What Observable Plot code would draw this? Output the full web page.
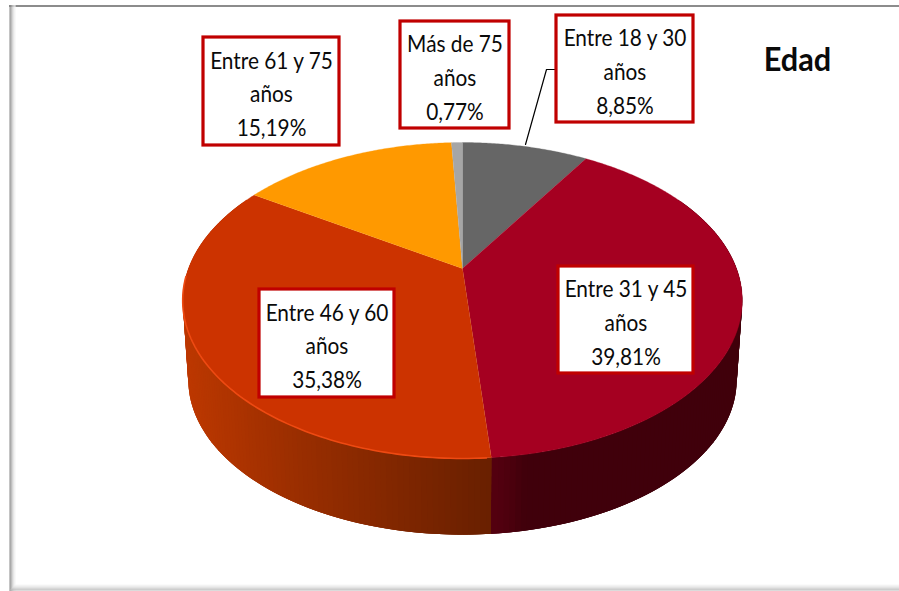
<!DOCTYPE html>
<html lang="es">
<head>
<meta charset="utf-8">
<script src="https://cdn.jsdelivr.net/npm/d3@7"></script>
<script src="https://cdn.jsdelivr.net/npm/@observablehq/plot@0.6"></script>
<style>
html,body{margin:0;padding:0;background:#fff;overflow:hidden}
svg{display:block}
</style>
</head>
<body>
<div id="chart"></div>
<script>
// Data (clockwise from 12 o'clock)
const categories = ["Entre 18 y 30 años","Entre 31 y 45 años","Entre 46 y 60 años","Entre 61 y 75 años","Más de 75 años"];
const values = [8.85,39.81,35.38,15.19,0.77];
const valueLabels = ["8,85%","39,81%","35,38%","15,19%","0,77%"];
const labelLines = [["Entre 18 y 30","años"],["Entre 31 y 45","años"],["Entre 46 y 60","años"],["Entre 61 y 75","años"],["Más de 75","años"]];
const topColors = ["#666666","#a50021","#cc3300","#ff9900","#a6a6a6"];
const title = "Edad";

// Label box placement
const boxX1 = [556,558,259,203,400];
const boxX2 = [693,693,394,339,509];
const boxY1 = [15,266,289,37,21];
const boxY2 = [122,373,397,145,128];
const leaderX = [525,546,555];
const leaderY = [144,69,69];

// Pie perspective
const cx=462, cy=268, A=274, B=151.5, K=0.2025, DEPTH=80, SHRINK=0.98;
function proj(deg, s=1, dy=0){
  const t=deg*Math.PI/180, u=Math.sin(t), v=Math.cos(t), w=1+K*v;
  return {x:cx+s*A*u/w, y:cy+dy-s*B*v/w};
}
const cum=[0]; values.forEach(v=>cum.push(cum[cum.length-1]+v));
const total=cum[cum.length-1];
const deg=i=>cum[i]/total*360;

// Top slices
const tops=[];
values.forEach((v,i)=>{
  tops.push({x:cx,y:cy,z:i,c:topColors[i]});
  for(let a=deg(i); a<deg(i+1); a+=0.5){tops.push({...proj(a),z:i,c:topColors[i]});}
  tops.push({...proj(deg(i+1)),z:i,c:topColors[i]});
});

// Side wall shading, by horizontal position
const sideOrange=d3.scaleLinear().domain([183,300,490]).range(["#bd3800","#9a2e00","#6a2000"]).clamp(true);
const sideRed=d3.scaleLinear().domain([490,520,743]).range(["#560010","#40000b","#40000b"]).clamp(true);
// Strips are painted so that each one covers the seam of the one before it:
// the red wall from the right towards the seam, the orange wall from the left towards it.
const sides=[];
let n=0;
const seam=deg(2);
function strip(a,b){
  const m=(a+b)/2;
  const i=cum.findIndex((c,j)=>j<values.length && m/360*total>=c && m/360*total<cum[j+1]);
  const p0=proj(a),p1=proj(b),q1=proj(b,SHRINK,DEPTH),q0=proj(a,SHRINK,DEPTH);
  const c=i===1?sideRed((p0.x+p1.x)/2):sideOrange((p0.x+p1.x)/2);
  [p0,p1,q1,q0].forEach(p=>sides.push({...p,z:n,c}));
  n++;
}
for(let a=60;a<seam;a+=1){strip(a,Math.min(a+3,seam));}
for(let a=300;a>seam;a-=1){strip(a,Math.max(a-3,seam));}

// Highlight rim along the lit edge
const rim=d3.range(176,268,1).map(a=>({...proj(a),o:a}));

// Frame shadow
const leftShades=["#888888","#8f8f8f","#b5b5b5","#d0d0d0","#e4e4e4","#f3f3f3"];
const bottomShades=["#f6f6f6","#ececec","#e2e2e2","#d6d6d6","#c4c4c4","#b8b8b8"];

const labelData=categories.map((c,i)=>({
  x1:boxX1[i],x2:boxX2[i],y1:boxY1[i],y2:boxY2[i],
  text:[...labelLines[i],valueLabels[i]].join("\n")
}));

const plot=Plot.plot({
  width:899,height:591,margin:0,
  x:{domain:[0,899],range:[0,899],axis:null},
  y:{domain:[0,591],range:[0,591],axis:null},
  color:{type:"identity"},
  style:{background:"#fff"},
  marks:[
    Plot.ruleY([5.5],{x1:9,x2:899,stroke:"#8c8c8c",strokeWidth:2}),
    Plot.ruleX(leftShades,{x:(d,i)=>9.5+i,y1:5,y2:591,stroke:d=>d,strokeWidth:1}),
    Plot.ruleY(bottomShades,{y:(d,i)=>584.5+i,x1:(d,i)=>15-i,x2:899,stroke:d=>d,strokeWidth:1}),
    Plot.line(sides,{x:"x",y:"y",z:"z",fill:"c",stroke:"none"}),
    Plot.line(tops,{x:"x",y:"y",z:"z",fill:"c",stroke:"c",strokeWidth:0.3}),
    Plot.line(rim,{x:"x",y:"y",stroke:"#ee4a12",strokeWidth:1.6}),
    Plot.line(leaderX.map((x,i)=>({x,y:leaderY[i]})),{x:"x",y:"y",stroke:"#000",strokeWidth:1.2}),
    Plot.rect(labelData,{x1:"x1",x2:"x2",y1:"y1",y2:"y2",fill:"#fff",stroke:"#c00000",strokeWidth:3.2}),
    Plot.text(labelData,{x:d=>(d.x1+d.x2)/2,y:d=>(d.y1+d.y2)/2,text:"text",fontFamily:"Lato",fontSize:23,lineHeight:1.47,fill:"#0a0a0a"}),
    Plot.text([title],{x:[797],y:[60],text:d=>d,fontFamily:"Lato",fontWeight:"bold",fontSize:32,fill:"#0a0a0a"})
  ]
});
document.getElementById("chart").appendChild(plot);
// Calibri-like condensed look: narrow the glyphs around each text's anchor
d3.select(plot).selectAll("text").each(function(){
  const t=d3.select(this);
  const isTitle=t.text()===title;
  t.attr("transform",(t.attr("transform")||"")+` scale(${isTitle?0.96:0.905},1)`);
});
</script>
</body>
</html>
